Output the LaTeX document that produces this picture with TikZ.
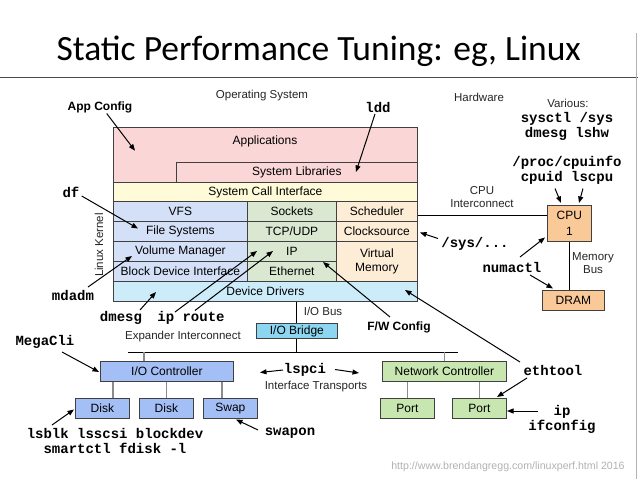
\documentclass[tikz,border=0pt]{standalone}
\usepackage{fontspec}
\setmainfont{Liberation Sans}
\newfontfamily\monof{Liberation Mono}
\newfontfamily\titlef{Carlito}
\usetikzlibrary{arrows.meta}
\definecolor{cPink}{RGB}{250,214,214}
\definecolor{cYellow}{RGB}{255,250,216}
\definecolor{cBlue}{RGB}{212,224,247}
\definecolor{cGreen}{RGB}{218,232,210}
\definecolor{cPeach}{RGB}{253,236,214}
\definecolor{cCyan}{RGB}{204,236,250}
\definecolor{cBridge}{RGB}{140,214,242}
\definecolor{cIO}{RGB}{163,191,245}
\definecolor{cNet}{RGB}{200,230,176}
\definecolor{cCPU}{RGB}{249,201,152}
\begin{document}
\begin{tikzpicture}[x=1pt,y=-1pt,
  box/.style={draw=black!75, line width=0.8pt, inner sep=0pt, anchor=north west,
    font=\fontsize{12}{13.5}\selectfont, align=center},
  lbl/.style={font=\fontsize{11.5}{13}\selectfont, text=black!85, inner sep=0pt, align=center},
  cmd/.style={font=\monof\bfseries\fontsize{14}{15}\selectfont, inner sep=0pt, align=center},
  cfg/.style={font=\bfseries\fontsize{12}{14}\selectfont, inner sep=0pt},
  arr/.style={-{Triangle[length=6.5pt,width=5pt]}, line width=1pt},
  conn/.style={line width=1.6pt, draw=black!45},
  bus/.style={line width=0.9pt, draw=black}]
\useasboundingbox (0,0) rectangle (638,479);
\fill[white] (0,0) rectangle (638,479);
% title
\node[font=\titlef\fontsize{35.5}{40}\selectfont, anchor=base, inner sep=0pt] (title) at (318.7,60.7) {Static Performance Tuning: eg, Linux};
\draw[black!70, line width=0.8pt] (0,77.3) -- (638,77.3);
\draw[black!30, line width=1pt] (636.5,33) -- (636.5,479);
% software stack
\node[box, fill=cPink, minimum width=304pt, minimum height=55pt] (apps) at (113,127) {};
\node[lbl, text=black, font=\fontsize{12}{13.5}\selectfont] (appstext) at (265,141) {Applications};
\node[box, fill=cPink, minimum width=241pt, minimum height=20pt] (syslib) at (176,162) {System Libraries};
\node[box, fill=cYellow, minimum width=304pt, minimum height=19pt] (sci) at (113,182) {System Call Interface};
\node[box, fill=cBlue, minimum width=134pt, minimum height=20pt] (vfs) at (113,201) {VFS};
\node[box, fill=cGreen, minimum width=89pt, minimum height=20pt] (sockets) at (247,201) {Sockets};
\node[box, fill=cPeach, minimum width=81pt, minimum height=20pt] (sched) at (336,201) {Scheduler};
\node[box, fill=cBlue, minimum width=134pt, minimum height=20pt] (fs) at (113,221) {File Systems};
\node[box, fill=cGreen, minimum width=89pt, minimum height=20pt] (tcp) at (247,221) {TCP/UDP};
\node[box, fill=cPeach, minimum width=81pt, minimum height=20pt] (clock) at (336,221) {Clocksource};
\node[box, fill=cBlue, minimum width=134pt, minimum height=20pt] (vm) at (113,241) {Volume Manager};
\node[box, fill=cGreen, minimum width=89pt, minimum height=20pt] (ip) at (247,241) {IP};
\node[box, fill=cPeach, minimum width=81pt, minimum height=40pt] (virt) at (336,241) {Virtual\\Memory};
\node[box, fill=cBlue, minimum width=134pt, minimum height=20pt] (bdi) at (113,261) {Block Device Interface};
\node[box, fill=cGreen, minimum width=89pt, minimum height=20pt] (eth) at (247,261) {Ethernet};
\node[box, fill=cCyan, minimum width=304pt, minimum height=20pt] (dd) at (113,281) {Device Drivers};
% I/O
\node[box, fill=cBridge, minimum width=81pt, minimum height=15pt] (bridge) at (256,323) {I/O Bridge};
\coordinate (busL) at (128,352);
\coordinate (busR) at (458,352);
\coordinate (busIO) at (144,352);
\draw[bus] (bridge.north) -- (bridge.north |- dd.south);
\draw[bus] (bridge.south) -- (bridge.south |- busL);
\draw[bus] (busL) -- (busR);
\node[box, fill=cIO, minimum width=133pt, minimum height=20pt] (ioc) at (100,361) {I/O Controller};
\node[box, fill=cIO, minimum width=54pt, minimum height=20pt] (disk1) at (75,398) {Disk};
\node[box, fill=cIO, minimum width=54pt, minimum height=20pt] (disk2) at (139,398) {Disk};
\node[box, fill=cIO, minimum width=54pt, minimum height=20pt] (swap) at (203,398) {Swap};
\node[box, fill=cNet, minimum width=124pt, minimum height=20pt] (nc) at (382,361) {Network Controller};
\node[box, fill=cNet, minimum width=54pt, minimum height=20pt] (port1) at (380,398) {Port};
\node[box, fill=cNet, minimum width=54pt, minimum height=20pt] (port2) at (452,398) {Port};
\coordinate (d1x) at (113,0);
\coordinate (swx) at (222,0);
\draw[conn] (busIO) -- (busIO |- ioc.north);
\draw[conn] (ioc.south -| d1x) -- (disk1.north -| d1x);
\draw[conn] (disk2.north |- ioc.south) -- (disk2.north);
\draw[conn] (ioc.south -| swx) -- (swap.north -| swx);
\draw[conn] (nc.north |- busR) -- (nc.north);
\draw[conn] (port1.north |- nc.south) -- (port1.north);
\draw[conn] (port2.north |- nc.south) -- (port2.north);
% hardware
\node[box, fill=cCPU, minimum width=44pt, minimum height=36pt, font=\fontsize{12}{15.5}\selectfont] (cpu) at (547,205) {CPU\\1};
\node[box, fill=cCPU, minimum width=62pt, minimum height=20pt] (dram) at (542,290) {DRAM};
\draw[bus] (cpu.south) -- (cpu.south |- dram.north);
\draw[bus] ([yshift=-4.5pt]sched.east) -- ([yshift=-4.5pt]sched.east -| cpu.west);
% plain labels
\node[lbl] (os) at (262,96) {Operating System};
\node[lbl] (hw) at (479,97) {Hardware};
\node[lbl] (various) at (568,103) {Various:};
\node[lbl] (cpuic) at (482,197.5) {CPU\\Interconnect};
\node[lbl] (membus) at (593,263) {Memory\\Bus};
\node[lbl, rotate=90] (lk) at (99,245) {Linux Kernel};
\node[lbl] (iobus) at (323,311) {I/O Bus};
\node[lbl] (expander) at (183,337) {Expander Interconnect};
\node[lbl] (itrans) at (316,387) {Interface Transports};
\node[font=\fontsize{10.6}{12}\selectfont, text=black!30, inner sep=0pt] (url) at (508,467) {http://www.brendangregg.com/linuxperf.html 2016};
% command labels
\node[cmd] (sysctl) at (567,126.5) {sysctl /sys\\dmesg lshw};
\node[cmd] (cpuinfo) at (567,170.5) {/proc/cpuinfo\\cpuid lscpu};
\node[cmd] (ldd) at (378,107) {ldd};
\node[cfg] (appcfg) at (100,107) {App Config};
\node[cmd] (df) at (71,192) {df};
\node[cmd] (sys) at (475,244) {/sys/...};
\node[cmd] (numactl) at (512,267) {numactl};
\node[cmd] (mdadm) at (73,295) {mdadm};
\node[cmd] (dmesg) at (121,318) {dmesg};
\node[cmd] (iproute) at (191,318) {ip route};
\node[cfg] (fwcfg) at (399,327) {F/W Config};
\node[cmd] (megacli) at (45,342) {MegaCli};
\node[cmd] (lspci) at (305,370) {lspci};
\node[cmd] (ethtool) at (553,370) {ethtool};
\node[cmd] (ipifc) at (562,419) {ip\\ifconfig};
\node[cmd] (lsblk) at (115,441) {lsblk lsscsi blockdev\\smartctl fdisk -l};
\node[cmd] (swapon) at (290,433) {swapon};
% arrow end points
\coordinate (a1s) at (106.7,113.5); \coordinate (a1e) at (135,150.7);
\coordinate (a2s) at (375,114); \coordinate (a2e) at (356,172);
\coordinate (a3s) at (81.7,196); \coordinate (a3e) at (138,228.5);
\coordinate (a4s) at (88,287); \coordinate (a4e) at (132,256);
\coordinate (a5s) at (140,310); \coordinate (a5e) at (156,292);
\coordinate (a6s) at (175,312); \coordinate (a6e) at (257,251);
\coordinate (a7s) at (195,310.5); \coordinate (a7e) at (273,251);
\coordinate (a8s) at (390,317); \coordinate (a8e) at (323,262);
\coordinate (a9s) at (520,362); \coordinate (a9e) at (405,290);
\coordinate (a10s) at (527,378); \coordinate (a10e) at (497,397);
\coordinate (a11s) at (538,411); \coordinate (a11e) at (507,411);
\coordinate (a12s) at (520,257); \coordinate (a12e) at (545,237.5);
\coordinate (a13s) at (530,275); \coordinate (a13e) at (553,288.5);
\coordinate (a14s) at (438,238.5); \coordinate (a14e) at (420,232.5);
\coordinate (a15s) at (555,188.5); \coordinate (a15e) at (561,203);
\coordinate (a16s) at (583,188.5); \coordinate (a16e) at (579,203);
\coordinate (a17s) at (62,352); \coordinate (a17e) at (99,372);
\coordinate (a18s) at (52,425); \coordinate (a18e) at (74,409.5);
\coordinate (a19s) at (258,430); \coordinate (a19e) at (236,419.5);
\coordinate (a20s) at (283,370); \coordinate (a20e) at (260,372.5);
\coordinate (a21s) at (335,369.5); \coordinate (a21e) at (359,373);
\foreach \i in {1,...,21} { \draw[arr] (a\i s) -- (a\i e); }
\end{tikzpicture}
\end{document}
